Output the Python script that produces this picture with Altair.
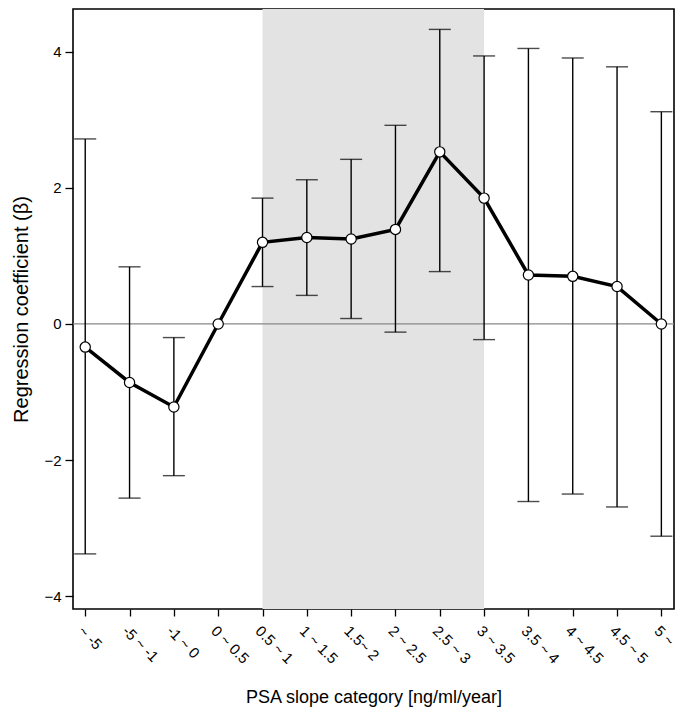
import altair as alt
import pandas as pd

categories = ["~ -5", "-5 ~ -1", "-1 ~ 0", "0 ~ 0.5", "0.5 ~ 1", "1 ~ 1.5", "1.5~ 2",
              "2 ~ 2.5", "2.5 ~ 3", "3 ~ 3.5", "3.5 ~ 4", "4 ~ 4.5", "4.5 ~ 5", "5 ~"]
beta = [-0.34, -0.86, -1.22, 0.0, 1.20, 1.27, 1.25, 1.39, 2.53, 1.85, 0.72, 0.70, 0.55, 0.0]
lower = [-3.38, -2.56, -2.23, None, 0.55, 0.42, 0.08, -0.12, 0.77, -0.23, -2.61, -2.50, -2.69, -3.12]
upper = [2.72, 0.84, -0.20, None, 1.85, 2.12, 2.42, 2.92, 4.33, 3.94, 4.05, 3.91, 3.78, 3.12]
y_ticks = [-4, -2, 0, 2, 4]
shade_from, shade_to = 5, 10

idx = list(range(1, len(categories) + 1))
df = pd.DataFrame({"i": idx, "cat": categories, "b": beta, "lo": lower, "hi": upper})
shade = pd.DataFrame({"x1": [shade_from], "x2": [shade_to]})
zero = pd.DataFrame({"y": [0]})

FONT = "Liberation Sans"
label_arr = "[" + ",".join("'" + c + "'" for c in categories) + "]"

W, H = 601, 600
xscale = alt.Scale(domain=[0.724, 14.285], nice=False, zero=False)
yscale = alt.Scale(domain=[-4.19, 4.63], nice=False, zero=False)

xaxis = alt.Axis(values=idx, labelExpr=label_arr + "[datum.value-1]", labelAngle=45,
                 title="PSA slope category [ng/ml/year]", grid=False, tickSize=7,
                 labelFontSize=15, titleFontSize=18, titlePadding=22, labelPadding=7,
                 domain=False, tickColor="black", tickWidth=1.3, labelColor="black",
                 titleFontWeight="normal", titleColor="black")
yaxis = alt.Axis(values=y_ticks, format="d", title="Regression coefficient (β)", grid=False,
                 tickSize=8, labelFontSize=15, titleFontSize=20, titlePadding=12,
                 labelPadding=4, domain=False, tickColor="black", tickWidth=1.3,
                 labelColor="black", titleFontWeight="normal", titleColor="black")

rect = alt.Chart(shade).mark_rect(color="#e3e3e3").encode(
    x=alt.X("x1:Q", scale=xscale, axis=xaxis), x2="x2:Q",
    y=alt.value(0), y2=alt.value(H))

zline = alt.Chart(zero).mark_rule(color="#888888", strokeWidth=1.2).encode(
    y=alt.Y("y:Q", scale=yscale, axis=yaxis))

base = alt.Chart(df).encode(x=alt.X("i:Q", scale=xscale, axis=xaxis))
errs = base.transform_filter("isValid(datum.lo)")
bars = errs.mark_rule(color="black", strokeWidth=1.4).encode(
    y=alt.Y("lo:Q", scale=yscale, axis=yaxis), y2="hi:Q")
cap_lo = errs.mark_tick(color="black", orient="horizontal", size=22, thickness=1.4).encode(
    y=alt.Y("lo:Q", scale=yscale))
cap_hi = errs.mark_tick(color="black", orient="horizontal", size=22, thickness=1.4).encode(
    y=alt.Y("hi:Q", scale=yscale))
line = base.mark_line(color="black", strokeWidth=3.5).encode(
    y=alt.Y("b:Q", scale=yscale, axis=yaxis))
pts = base.mark_point(filled=True, fill="white", stroke="black", strokeWidth=1.2,
                      size=105, opacity=1, shape="circle").encode(
    y=alt.Y("b:Q", scale=yscale))

chart = alt.layer(rect, zline, bars, cap_lo, cap_hi, line, pts).properties(
    width=W, height=H,
    autosize=alt.AutoSizeParams(type="none"),
    padding={"left": 65, "top": 1, "right": 3, "bottom": 100},
).configure(font=FONT).configure_view(stroke="black", strokeWidth=1.6)

chart.save("out.html", embed_options={"renderer": "svg", "actions": False})
